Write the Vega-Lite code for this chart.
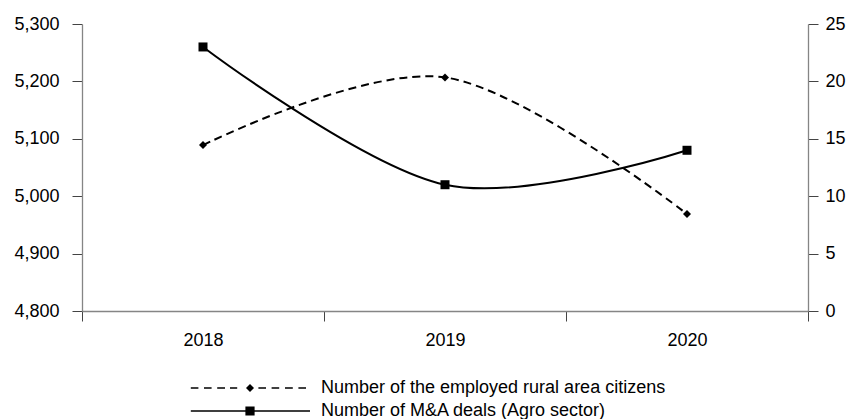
{
  "$schema": "https://vega.github.io/schema/vega-lite/v6.json",
  "width": 726,
  "height": 287,
  "autosize": {"type": "none"},
  "padding": {"left": 82, "top": 24, "right": 41, "bottom": 108},
  "background": "white",
  "config": {
    "view": {"stroke": null},
    "font": "Liberation Sans",
    "axis": {
      "labelFont": "Liberation Sans",
      "labelFontSize": 18,
      "labelColor": "black",
      "domainColor": "#858585",
      "domainWidth": 1.3,
      "tickColor": "#444444",
      "tickSize": 10,
      "tickWidth": 1,
      "grid": false,
      "title": null
    },
    "legend": {
      "labelFont": "Liberation Sans",
      "labelFontSize": 18,
      "labelColor": "black",
      "labelLimit": 0
    }
  },
  "data": {
    "values": [
      {"year": "2018", "series": "Number of the employed rural area citizens", "value": 5089},
      {"year": "2019", "series": "Number of the employed rural area citizens", "value": 5207},
      {"year": "2020", "series": "Number of the employed rural area citizens", "value": 4969},
      {"year": "2018", "series": "Number of M&A deals (Agro sector)", "value": 23},
      {"year": "2019", "series": "Number of M&A deals (Agro sector)", "value": 11},
      {"year": "2020", "series": "Number of M&A deals (Agro sector)", "value": 14}
    ]
  },
  "encoding": {
    "x": {
      "field": "year",
      "type": "ordinal",
      "sort": ["2018", "2019", "2020"],
      "scale": {"type": "band", "paddingInner": 0, "paddingOuter": 0},
      "axis": {"tickBand": "extent", "labelAngle": 0, "labelPadding": 10, "domainColor": "#858585"}
    }
  },
  "layer": [
    {
      "transform": [{"filter": "datum.series === 'Number of the employed rural area citizens'"}],
      "mark": {
        "type": "line",
        "interpolate": "cardinal",
        "color": "black",
        "strokeWidth": 2,
        "strokeDash": [8, 5],
        "point": {"shape": "diamond", "size": 64, "filled": true, "color": "black", "strokeDash": [1, 0]}
      },
      "encoding": {
        "y": {
          "field": "value",
          "type": "quantitative",
          "scale": {"domain": [4800, 5300], "nice": false, "zero": false},
          "axis": {"orient": "left", "values": [4800, 4900, 5000, 5100, 5200, 5300], "format": ",.0f", "labelPadding": 13}
        }
      }
    },
    {
      "transform": [{"filter": "datum.series === 'Number of M&A deals (Agro sector)'"}],
      "mark": {
        "type": "line",
        "interpolate": "cardinal",
        "color": "black",
        "strokeWidth": 2,
        "point": {"shape": "square", "size": 81, "filled": true, "color": "black"}
      },
      "encoding": {
        "y": {
          "field": "value",
          "type": "quantitative",
          "scale": {"domain": [0, 25], "nice": false},
          "axis": {"orient": "right", "values": [0, 5, 10, 15, 20, 25], "format": "d", "labelPadding": 7}
        }
      }
    },
    {
      "mark": {"type": "point", "filled": true, "opacity": 0, "fill": "black", "size": 64},
      "encoding": {
        "y": {"field": "value", "type": "quantitative", "axis": null},
        "shape": {
          "field": "series",
          "type": "nominal",
          "scale": {
            "domain": ["Number of the employed rural area citizens", "Number of M&A deals (Agro sector)"],
            "range": [
              "M-14.8,-0.2H-12.9V0.2H-14.8ZM-11.5,-0.2H-9.6V0.2H-11.5ZM-8.2,-0.2H-6.25V0.2H-8.2ZM-5,-0.2H-3.2V0.2H-5ZM2.1,-0.2H4V0.2H2.1ZM5.4,-0.2H7.3V0.2H5.4ZM8.75,-0.2H10.7V0.2H8.75ZM12.1,-0.2H14V0.2H12.1ZM-1,0L0,-1L1,0L0,1Z",
              "M-14.8,-0.2H15V0.2H-14.8ZM-1.15,-1.15H1.15V1.15H-1.15Z"
            ]
          },
          "legend": {
            "orient": "none",
            "legendX": 109,
            "legendY": 355,
            "title": null,
            "padding": 0,
            "symbolSize": 64,
            "symbolOpacity": 1,
            "symbolFillColor": "black",
            "symbolOffset": 50,
            "labelOffset": 62,
            "rowPadding": 5
          }
        }
      }
    }
  ],
  "resolve": {"scale": {"y": "independent"}}
}
